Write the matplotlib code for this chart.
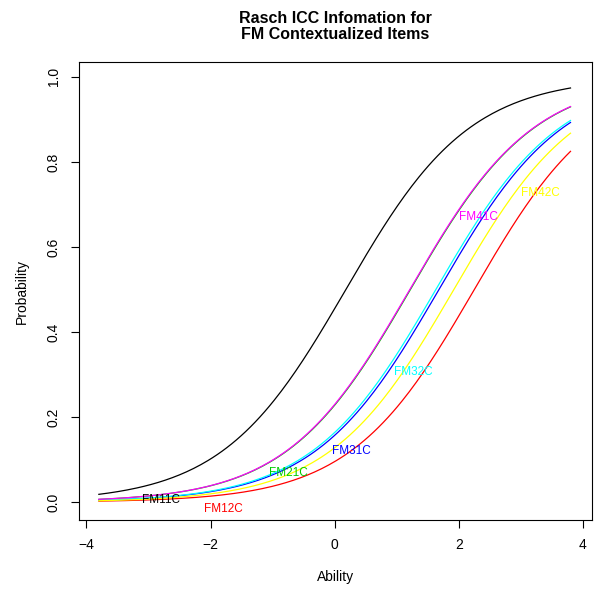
import numpy as np
import matplotlib
matplotlib.use('Agg')
from matplotlib import pyplot as plt

plt.rcParams['font.family'] = ['Liberation Sans', 'DejaVu Sans']

# item difficulties (Rasch b parameters)
items = ['FM11C', 'FM12C', 'FM21C', 'FM31C', 'FM32C', 'FM41C', 'FM42C']
difficulty = [0.18, 2.25, 1.22, 1.68, 1.63, 1.21, 1.92]
colors = ['black', 'red', '#00cd00', 'blue', 'cyan', 'magenta', 'yellow']
# where each item's label sits (ability, probability)
label_x = [-2.8, -1.8, -0.74, 0.27, 1.27, 2.32, 3.32]
label_y = [0.005, -0.017, 0.068, 0.12, 0.306, 0.67, 0.727]

theta = np.linspace(-3.8, 3.8, 200)

fig = plt.figure(figsize=(5.94, 5.94), dpi=100)
ax = fig.add_axes([0.133, 0.1246, 0.864, 0.771])

for name, b, c in zip(items, difficulty, colors):
    p = 1 / (1 + np.exp(-(theta - b)))
    ax.plot(theta, p, color=c, lw=0.9)

for name, c, lx, ly in zip(items, colors, label_x, label_y):
    ax.text(lx, ly, name, color=c, fontsize=8.5, ha='center', va='center')

ax.set_xlim(-4.12, 4.15)
ax.set_ylim(-0.042, 1.035)
ax.set_xticks([-4, -2, 0, 2, 4])
ax.set_xticklabels(['\u22124', '\u22122', '0', '2', '4'])
ax.set_yticks([0, 0.2, 0.4, 0.6, 0.8, 1.0])
ax.set_yticklabels(['0.0', '0.2', '0.4', '0.6', '0.8', '1.0'], rotation=90, va='center')
ax.tick_params(direction='out', length=6, width=0.8, labelsize=10, pad=7)
for s in ax.spines.values():
    s.set_linewidth(0.8)

ax.set_xlabel('Ability', fontsize=10, labelpad=13)
ax.set_ylabel('Probability', fontsize=10, labelpad=13)
fig.text(0.565, 0.955, 'Rasch ICC Infomation for\nFM Contextualized Items',
         ha='center', va='center', fontsize=11.5, fontweight='bold', linespacing=1.1)

plt.savefig('out.png', dpi=100)
